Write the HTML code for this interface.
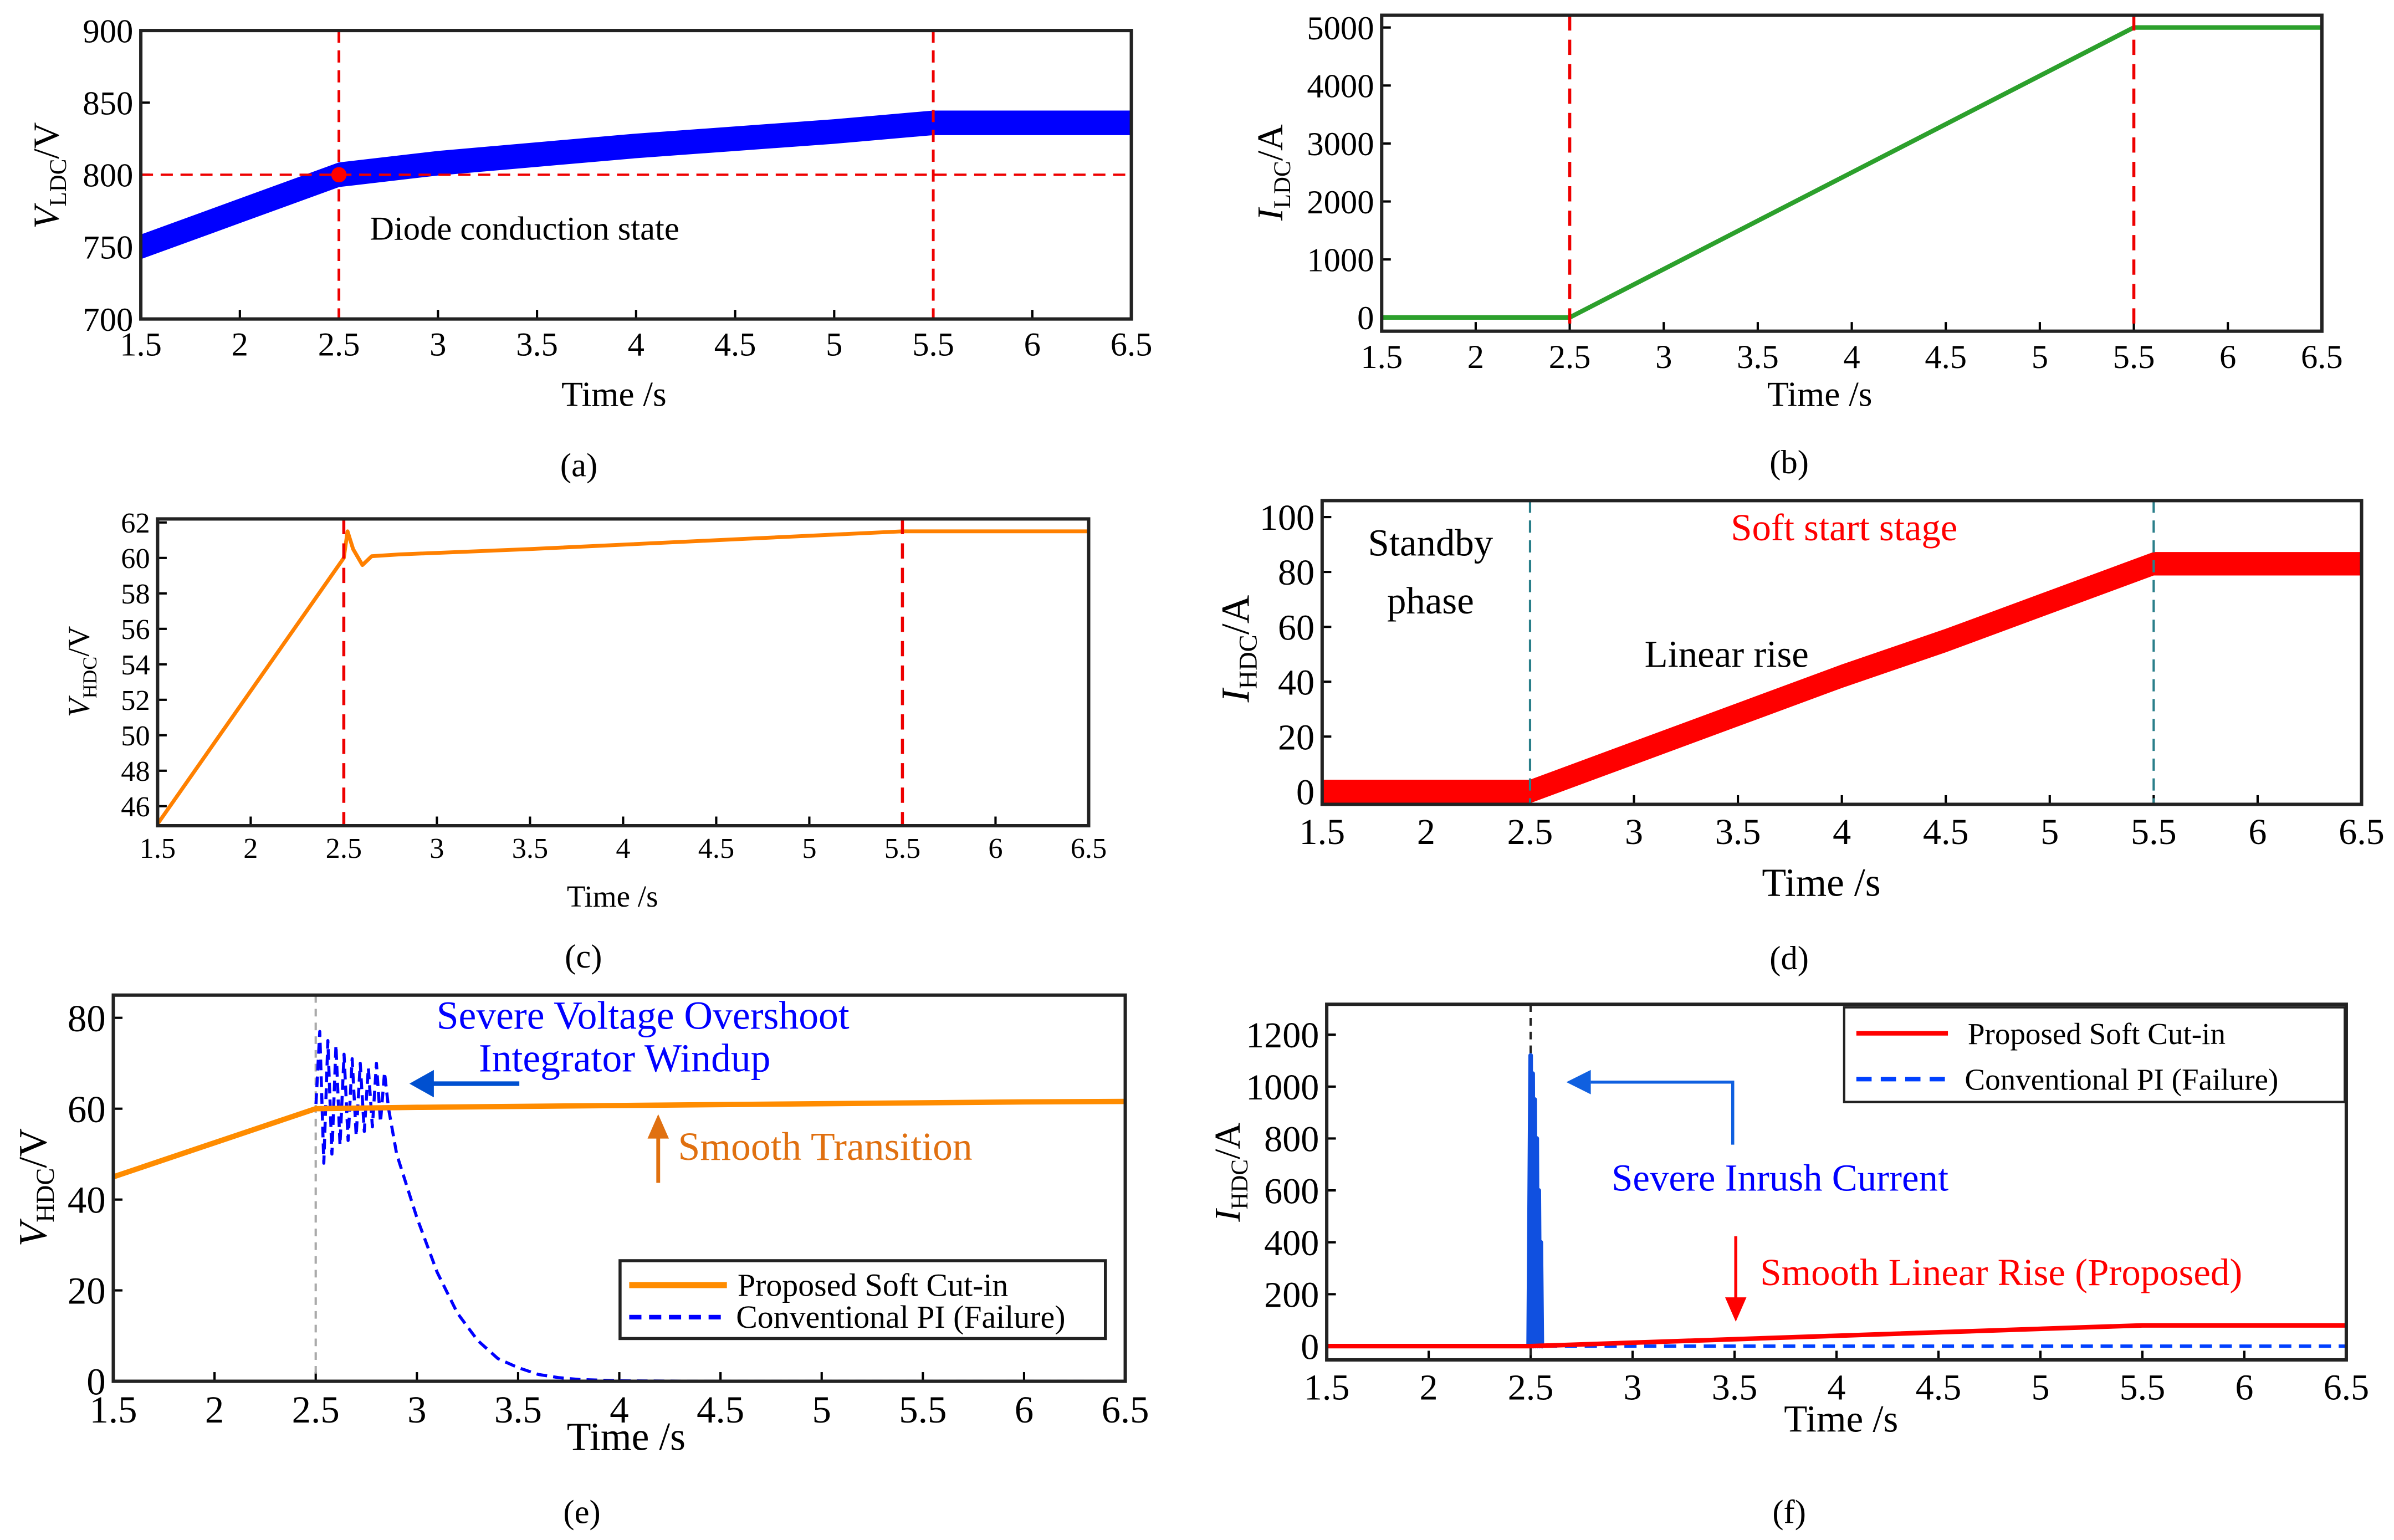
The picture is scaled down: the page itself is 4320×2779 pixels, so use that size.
<!DOCTYPE html>
<html><head><meta charset="utf-8"><style>
html,body{margin:0;padding:0;background:#fff;}
svg{display:block;}
text{font-family:"Liberation Serif",serif;}
</style></head><body>
<svg id="fig" xmlns="http://www.w3.org/2000/svg" width="4320" height="2779" viewBox="0 0 1568 1009">
<rect x="0" y="0" width="1568" height="1009" fill="#fff"/>
</svg>
<script>
// ---- data ----
const tGrid=[1.5,2,2.5,3,3.5,4,4.5,5,5.5,6,6.5];
const xTicks=[1.5,2,2.5,3,3.5,4,4.5,5,5.5,6,6.5];
const xTickLabels=["1.5","2","2.5","3","3.5","4","4.5","5","5.5","6","6.5"];
// (a)
const aV=[750,775,800,808,814,820,825,830,836,836,836];
const aAmp=[8,8,8,8,8,8,8,8,8,8,8];
const aYTicks=[700,750,800,850,900];
// (b)
const bI=[0,0,0,833,1667,2500,3333,4167,5000,5000,5000];
const bYTicks=[0,1000,2000,3000,4000,5000];
// (c)
const cTime=[1.5,2.5,2.52,2.55,2.6,2.65,2.8,3.5,4.5,5.5,6.5];
const cV=[45,60,61.5,60.5,59.6,60.1,60.2,60.5,61,61.5,61.5];
const cYTicks=[46,48,50,52,54,56,58,60,62];
// (d)
const dI=[0,0,0,14,28,42,55,69,83,83,83];
const dAmp=[4,4,4,4,4,4,4,4,4,4,4];
const dYTicks=[0,20,40,60,80,100];
// (e)
const eTime=[1.5,2.5,3,3.5,4,4.5,5,5.5,6,6.5];
const eProp=[45,60,60.3,60.5,60.7,60.9,61.1,61.3,61.5,61.6];
const eConvTime=[1.5,2.5,2.52,2.54,2.56,2.58,2.6,2.62,2.64,2.66,2.68,2.7,2.72,2.74,2.76,2.78,2.8,2.82,2.84,2.86,2.9,3.0,3.1,3.2,3.3,3.4,3.5,3.6,3.7,3.8,4.0,4.5,6.5];
const eConv=[45,60,77,48,75,50,74,52,72,53,71,54,70,55,69,56,70,57,68,60,50,36,24,15,9,5,3,1.5,0.8,0.4,0.1,0,0];
const eYTicks=[0,20,40,60,80];
// (f)
const fTime=[1.5,2.5,5.5,6.5];
const fProp=[0,0,80,80];
const fSpikeTime=[2.49,2.5,2.505,2.51,2.515,2.52,2.525,2.53,2.535,2.54,2.545,2.55,2.555,2.56];
const fSpike=[0,1120,0,1050,0,950,0,800,0,600,0,400,0,0];
const fYTicks=[0,200,400,600,800,1000,1200];

// ---- helpers ----
const NS="http://www.w3.org/2000/svg";
const svg=document.getElementById('fig');
function mk(tag,attrs,parent){const e=document.createElementNS(NS,tag);for(const k in attrs)e.setAttribute(k,attrs[k]);(parent||svg).appendChild(e);return e;}
function lin(d0,d1,p0,p1){return v=>p0+(v-d0)*(p1-p0)/(d1-d0);}
function txt(x,y,s,size,fill,anchor,parent,name){const e=mk('text',{x:x,y:y,'font-size':size,fill:fill||'#000','text-anchor':anchor||'middle'},parent);e.textContent=s;


return e;}
function panel(name,x0,x1,y0,y1,yd0,yd1,yTicks,fs){
  const g=mk('g',{});
  
  
  const X=lin(1.5,6.5,x0,x1), Y=lin(yd0,yd1,y1,y0);
  const gx=mk('g',{},g);
  
  
  xTicks.forEach((t,i)=>{mk('line',{x1:X(t),x2:X(t),y1:y1,y2:y1-6,stroke:'#000','stroke-width':1.5},gx);
    txt(X(t),y1+fs+2,xTickLabels[i],fs,'#000','middle',gx,'x-tick-label');});
  const gy=mk('g',{},g);
  
  
  yTicks.forEach(v=>{mk('line',{x1:x0,x2:x0+6,y1:Y(v),y2:Y(v),stroke:'#000','stroke-width':1.5},gy);
    txt(x0-5,Y(v)+fs*0.35,String(v),fs,'#000','end',gy,'y-tick-label');});
  return {g,X,Y,box:()=>{const r=mk('rect',{x:x0,y:y0,width:x1-x0,height:y1-y0,fill:'none',stroke:'#222','stroke-width':2.2},g);
    
    }};
}
function band(p,ts,c,amp,color,name){
  let up=ts.map((t,i)=>p.X(t)+','+p.Y(c[i]+amp[i]));
  let dn=ts.map((t,i)=>p.X(t)+','+p.Y(c[i]-amp[i])).reverse();
  const e=mk('polygon',{points:up.concat(dn).join(' '),fill:color,stroke:color,'stroke-width':1},p.g);
  
  
}
function line(p,ts,vs,color,w,dash,name){
  const e=mk('polyline',{points:ts.map((t,i)=>p.X(t)+','+p.Y(vs[i])).join(' '),fill:'none',stroke:color,'stroke-width':w,'stroke-dasharray':dash||'none','stroke-linejoin':'round'},p.g);
  
  
}
function vline(p,t,ya,yb,color,dash,w,name){const e=mk('line',{x1:p.X(t),x2:p.X(t),y1:ya,y2:yb,stroke:color,'stroke-dasharray':dash,'stroke-width':w||2},p.g);
  
  }
function ylabel(x,y,main,sub,unit,fs){
  const t=mk('text',{x:0,y:0,'font-size':fs,transform:`translate(${x},${y}) rotate(-90)`,'text-anchor':'middle'});
  
  
  t.innerHTML=`<tspan font-style="italic">${main}</tspan><tspan font-size="${fs*0.65}" dy="5">${sub}</tspan><tspan dy="-5">/${unit}</tspan>`;
}

// ---- (a) ----
let pa=panel('panel-a',92,741,20,209,700,900,aYTicks,22);
band(pa,tGrid,aV,aAmp,'#0000ff','vldc-series');
mk('line',{x1:92,x2:741,y1:pa.Y(800),y2:pa.Y(800),stroke:'#e00','stroke-dasharray':'8,5','stroke-width':1.5},pa.g);
vline(pa,2.5,20,209,'#e00','8,5',1.8,'marker-2-5s');vline(pa,5.5,20,209,'#e00','8,5',1.8,'marker-5-5s');
let dot=mk('circle',{cx:pa.X(2.5),cy:pa.Y(800),r:5,fill:'#f00'},pa.g);


txt(242,157,'Diode conduction state',22,'#000','start',pa.g,'annotation-diode');
pa.box();
ylabel(38,115,'V','LDC','V',24);
txt(402,266,'Time /s',23,'#000','middle',null,'x-axis-title');
txt(379,312,'(a)',22,'#000','middle',null,'caption-a');

// ---- (b) ----
let pb=panel('panel-b',905,1521,10,217,-237,5211,bYTicks,22);
line(pb,tGrid,bI,'#2ca02c',3,null,'ildc-series');
vline(pb,2.5,10,217,'#e00','10,6',2,'marker-2-5s');vline(pb,5.5,10,217,'#e00','10,6',2,'marker-5-5s');
pb.box();
ylabel(840,113,'I','LDC','A',24);
txt(1192,266,'Time /s',23,'#000','middle',null,'x-axis-title');
txt(1172,310,'(b)',22,'#000','middle',null,'caption-b');

// ---- (c) ----
let pc=panel('panel-c',103,713,340,541,44.9,62.2,cYTicks,19);
line(pc,cTime,cV,'#ff8000',2.5,null,'vhdc-series');
vline(pc,2.5,340,541,'#e00','10,6',2,'marker-2-5s');vline(pc,5.5,340,541,'#e00','10,6',2,'marker-5-5s');
pc.box();
ylabel(58,440,'V','HDC','V',20);
txt(401,594,'Time /s',20,'#000','middle',null,'x-axis-title');
txt(382,634,'(c)',22,'#000','middle',null,'caption-c');

// ---- (d) ----
let pd=panel('panel-d',866,1547,328,527,-4.7,106,dYTicks,24);
band(pd,tGrid,dI,dAmp,'#ff0000','ihdc-series');
vline(pd,2.5,328,527,'#2a7f8a','8,5',1.5,'marker-2-5s');vline(pd,5.5,328,527,'#2a7f8a','8,5',1.5,'marker-5-5s');
txt(937,364,'Standby',25,'#000','middle',pd.g,'annotation-standby');
txt(937,402,'phase',25,'#000','middle',pd.g,'annotation-phase');
txt(1208,354,'Soft start stage',25,'#ff0000','middle',pd.g,'annotation-soft-start');
txt(1131,437,'Linear rise',25,'#000','middle',pd.g,'annotation-linear-rise');
pd.box();
ylabel(818,425,'I','HDC','A',26);
txt(1193,587,'Time /s',26,'#000','middle',null,'x-axis-title');
txt(1172,635,'(d)',22,'#000','middle',null,'caption-d');

// ---- (e) ----
let pe=panel('panel-e',74,737,652,905,0,85,eYTicks,25);
vline(pe,2.5,652,905,'#aaa','5,4',1.5,'marker-2-5s');
line(pe,eConvTime,eConv,'#0000ff',2,'7,4','conventional-pi-series');
line(pe,eTime,eProp,'#ff8c00',3.5,null,'proposed-series');
txt(421,674,'Severe Voltage Overshoot',26,'#0000ff','middle',pe.g,'annotation-overshoot');
txt(409,702,'Integrator Windup',26,'#0000ff','middle',pe.g,'annotation-windup');
mk('line',{x1:282,x2:340,y1:710,y2:710,stroke:'#0050d0','stroke-width':3},pe.g);
mk('polygon',{points:'268,710 284,701 284,719',fill:'#0050d0'},pe.g);
txt(444,760,'Smooth Transition',26,'#e07010','start',pe.g,'annotation-smooth');
mk('line',{x1:431,x2:431,y1:745,y2:775,stroke:'#e07010','stroke-width':2.5},pe.g);
mk('polygon',{points:'431,730 424,746 438,746',fill:'#e07010'},pe.g);
let lg=mk('g',{},pe.g);


mk('rect',{x:406,y:826,width:318,height:51,fill:'#fff',stroke:'#222','stroke-width':2},lg);
mk('line',{x1:412,x2:476,y1:842,y2:842,stroke:'#ff8c00','stroke-width':4},lg);
mk('line',{x1:412,x2:476,y1:863,y2:863,stroke:'#0000ff','stroke-width':3,'stroke-dasharray':'8,5'},lg);
txt(483,849,'Proposed Soft Cut-in',21,'#000','start',lg,'legend-entry-proposed');
txt(482,870,'Conventional PI (Failure)',21,'#000','start',lg,'legend-entry-conventional');
pe.box();
ylabel(30,778,'V','HDC','V',26);
txt(410,950,'Time /s',26,'#000','middle',null,'x-axis-title');
txt(381,998,'(e)',22,'#000','middle',null,'caption-e');

// ---- (f) ----
let pf=panel('panel-f',869,1537,658,891,-53,1317,fYTicks,24);
vline(pf,2.5,658,891,'#222','5,4',1.5,'marker-2-5s');
line(pf,[1.5,6.5],[0,0],'#0040ff',2.2,'8,5','conventional-pi-series');
line(pf,fSpikeTime,fSpike,'#1050e0',3,null,'inrush-spike');
line(pf,fTime,fProp,'#ff0000',3,null,'proposed-series');
txt(1166,780,'Severe Inrush Current',25,'#0000ff','middle',pf.g,'annotation-inrush');
mk('polyline',{points:'1135,750 1135,709 1042,709',fill:'none',stroke:'#1060e0','stroke-width':2},pf.g);
mk('polygon',{points:'1026,709 1042,701 1042,717',fill:'#1060e0'},pf.g);
txt(1153,842,'Smooth Linear Rise (Proposed)',25,'#ff0000','start',pf.g,'annotation-linear');
mk('line',{x1:1137,x2:1137,y1:810,y2:852,stroke:'#f00','stroke-width':2},pf.g);
mk('polygon',{points:'1137,866 1130,850 1144,850',fill:'#f00'},pf.g);
let lf=mk('g',{},pf.g);


mk('rect',{x:1208,y:660,width:328,height:62,fill:'#fff',stroke:'#222','stroke-width':1.5},lf);
mk('line',{x1:1216,x2:1276,y1:677,y2:677,stroke:'#ff0000','stroke-width':3},lf);
mk('line',{x1:1216,x2:1276,y1:707,y2:707,stroke:'#0040ff','stroke-width':3,'stroke-dasharray':'10,6'},lf);
txt(1289,684,'Proposed Soft Cut-in',20,'#000','start',lf,'legend-entry-proposed');
txt(1287,714,'Conventional PI (Failure)',20,'#000','start',lf,'legend-entry-conventional');
pf.box();
ylabel(812,768,'I','HDC','A',24);
txt(1206,938,'Time /s',25,'#000','middle',null,'x-axis-title');
txt(1172,998,'(f)',22,'#000','middle',null,'caption-f');
</script>
</body></html>
